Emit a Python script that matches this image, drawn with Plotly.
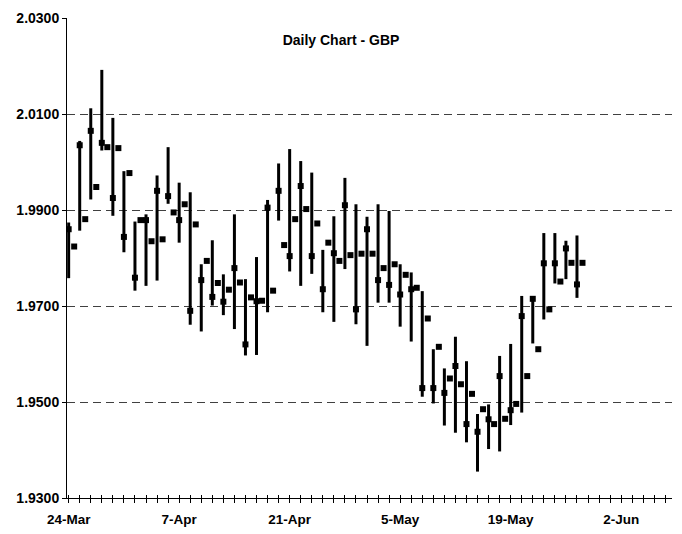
import plotly.graph_objects as go

# Point index along the category axis (two points per trading day)
# High / low are None where only a close marker is drawn
high = [1.9874, None, 2.0044, None, 2.0112, None, 2.0192, None, 2.0092, None,
        1.9981, None, 1.9876, None, 1.9891, None, 1.9972, None, 2.0031, None,
        1.9957, None, 1.9937, None, 1.9787, None, 1.9837, None, 1.9766, None,
        1.9891, None, 1.9756, None, 1.9802, None, 1.9921, None, 1.9997, None,
        2.0027, None, 2.0002, None, 1.9978, None, 1.9817, None, 1.9887, None,
        1.9967, None, 1.9912, None, 1.9886, None, 1.9912, None, 1.9898, None,
        1.9787, None, 1.9770, None, 1.9731, None, 1.9610, None, 1.9570, None,
        1.9636, None, 1.9585, None, 1.9475, None, 1.9495, None, 1.9596, None,
        1.9621, None, 1.9721, None, 1.9719, None, 1.9852, None, 1.9852, None,
        1.9836, None, 1.9847, None]
low = [1.9758, None, 1.9857, None, 1.9922, None, 2.0024, None, 1.9888, None,
       1.9812, None, 1.9732, None, 1.9742, None, 1.9753, None, 1.9913, None,
       1.9832, None, 1.9661, None, 1.9647, None, 1.9701, None, 1.9681, None,
       1.9652, None, 1.9597, None, 1.9598, None, 1.9687, None, 1.9878, None,
       1.9772, None, 1.9742, None, 1.9767, None, 1.9687, None, 1.9667, None,
       1.9777, None, 1.9662, None, 1.9617, None, 1.9707, None, 1.9707, None,
       1.9657, None, 1.9626, None, 1.9511, None, 1.9497, None, 1.9451, None,
       1.9436, None, 1.9416, None, 1.9355, None, 1.9402, None, 1.9397, None,
       1.9452, None, 1.9478, None, 1.9622, None, 1.9672, None, 1.9747, None,
       1.9756, None, 1.9717, None]
close = [1.9860, 1.9824, 2.0035, 1.9881, 2.0065, 1.9948, 2.0040, 2.0031, 1.9925, 2.0029,
         1.9844, 1.9977, 1.9759, 1.9879, 1.9879, 1.9835, 1.9940, 1.9839, 1.9929, 1.9895,
         1.9879, 1.9912, 1.9690, 1.9870, 1.9754, 1.9794, 1.9719, 1.9748, 1.9709, 1.9734,
         1.9779, 1.9749, 1.9620, 1.9718, 1.9710, 1.9711, 1.9905, 1.9732, 1.9940, 1.9827,
         1.9804, 1.9881, 1.9950, 1.9902, 1.9804, 1.9872, 1.9735, 1.9832, 1.9810, 1.9794,
         1.9910, 1.9806, 1.9693, 1.9809, 1.9860, 1.9809, 1.9754, 1.9779, 1.9744, 1.9787,
         1.9724, 1.9765, 1.9735, 1.9738, 1.9529, 1.9674, 1.9529, 1.9615, 1.9519, 1.9549,
         1.9575, 1.9537, 1.9454, 1.9517, 1.9438, 1.9485, 1.9464, 1.9454, 1.9554, 1.9465,
         1.9483, 1.9496, 1.9679, 1.9554, 1.9715, 1.9610, 1.9789, 1.9693, 1.9789, 1.9751,
         1.9820, 1.9790, 1.9745, 1.9790]

tick_labels = ["24-Mar", "7-Apr", "21-Apr", "5-May", "19-May", "2-Jun"]
points_per_label = 20

x = list(range(len(close)))
tick_vals = [i * points_per_label for i in range(len(tick_labels))]

# high-low segments
seg_x, seg_y = [], []
for xi, h, l in zip(x, high, low):
    if h is None or l is None:
        continue
    seg_x += [xi, xi, None]
    seg_y += [h, l, None]

FONT = "Liberation Sans, Arial, sans-serif"

fig = go.Figure()
fig.add_trace(go.Scatter(x=seg_x, y=seg_y, mode="lines",
                         line=dict(color="black", width=3),
                         hoverinfo="skip", showlegend=False))
fig.add_trace(go.Scatter(x=x, y=close, mode="markers",
                         marker=dict(symbol="square", size=6, color="black",
                                     line=dict(width=0)),
                         showlegend=False))
# invisible trace on overlay axis for inside (crossing) ticks
fig.add_trace(go.Scatter(x=[x[0]], y=[close[0]], xaxis="x2", mode="markers",
                         marker=dict(opacity=0), showlegend=False, hoverinfo="skip"))

# page body has an 8px margin, so the figure is sized/offset to compensate
W, H = 674, 526
xrange = [-0.3, 109.2]
fig.update_layout(
    width=W, height=H,
    paper_bgcolor="white", plot_bgcolor="white",
    margin=dict(l=59, r=10, t=10, b=36),
    font=dict(family=FONT, color="black", size=13),
    title=dict(text="<b>Daily Chart - GBP</b>", x=(341 - 8) / W, xref="container",
               xanchor="center", y=1 - (40 - 8) / H, yref="container",
               yanchor="middle", font=dict(size=14, family=FONT, color="black")),
    xaxis=dict(range=xrange, tickmode="array", tickvals=tick_vals,
               ticktext=[f"<b>{t}</b>" for t in tick_labels],
               showgrid=False, zeroline=False, showline=True, automargin=False,
               linecolor="black", linewidth=1,
               ticks="outside", ticklen=4, tickcolor="black", tickwidth=1,
               minor=dict(tickmode="linear", tick0=0, dtick=2, ticks="outside",
                          ticklen=4, tickcolor="black", tickwidth=1, showgrid=False),
               ticklabelstandoff=5,
               tickfont=dict(size=13.5, family=FONT, color="black")),
    xaxis2=dict(range=xrange, overlaying="x", side="bottom", anchor="y",
                tickmode="linear", tick0=0, dtick=2, ticks="inside", ticklen=3,
                tickcolor="black", showticklabels=False, showgrid=False,
                zeroline=False, showline=False, automargin=False),
    yaxis=dict(range=[1.93, 2.03001], tickmode="linear", tick0=1.93, dtick=0.02,
               tickformat=".4f", showgrid=True, gridcolor="#404040",
               griddash="8px,5px", gridwidth=1, zeroline=False, automargin=False,
               showline=True, linecolor="black", linewidth=1,
               ticks="outside", ticklen=4, tickcolor="black",
               tickprefix="<b>", ticksuffix="</b>",
               tickfont=dict(size=14, family=FONT, color="black")),
)

fig.write_html("out.html")
